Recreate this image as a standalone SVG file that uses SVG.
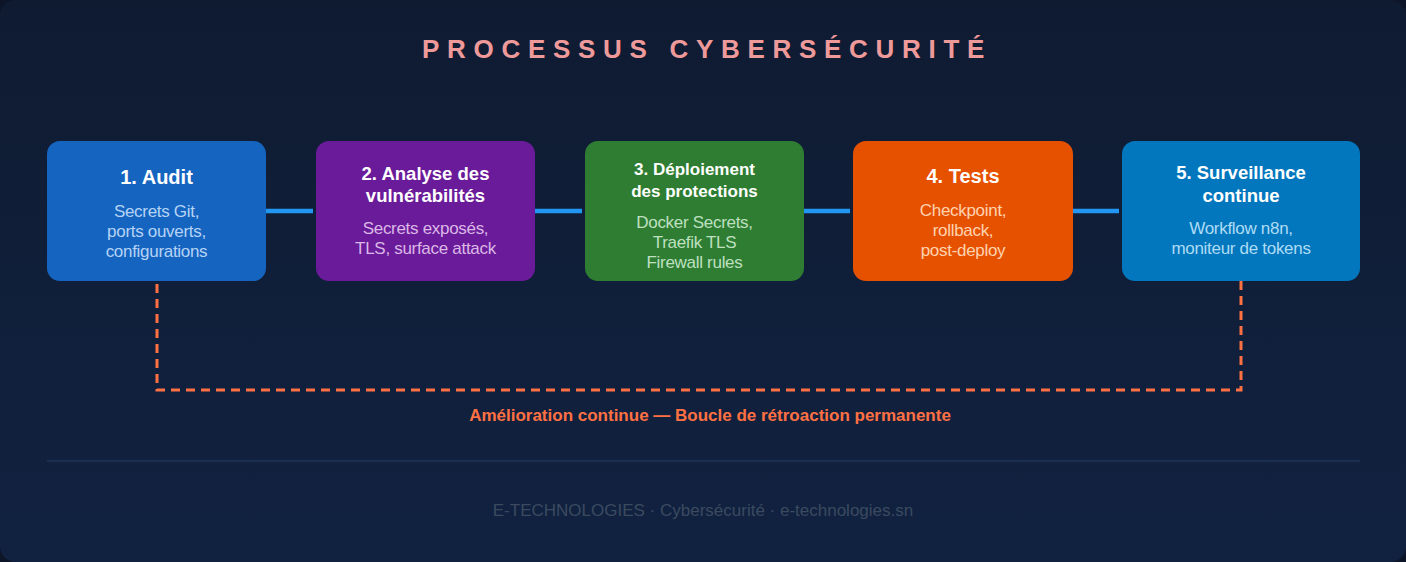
<svg xmlns="http://www.w3.org/2000/svg" width="1406" height="562" viewBox="0 0 1406 562">
  <defs>
    <linearGradient id="bg" x1="0" y1="0" x2="0" y2="1">
      <stop offset="0" stop-color="#0f1b31"/>
      <stop offset="1" stop-color="#112241"/>
    </linearGradient>
    <style>
      .title{font-family:"Liberation Sans",Arial,sans-serif;font-weight:bold;font-size:26px;letter-spacing:7.7px;fill:#ef9a9a}
      .nt{font-family:"Liberation Sans",Arial,sans-serif;font-weight:bold;fill:#ffffff;text-anchor:middle}
      .ns{font-family:"Liberation Sans",Arial,sans-serif;font-size:17px;letter-spacing:-0.3px;text-anchor:middle}
      .conn{stroke:#2196f3;stroke-width:4.5;fill:none}
      .loop{stroke:#ff7043;stroke-width:3;stroke-dasharray:9 6;fill:none}
      .loopl{font-family:"Liberation Sans",Arial,sans-serif;font-weight:bold;font-size:17px;fill:#ff7043;text-anchor:middle}
      .foot{font-family:"Liberation Sans",Arial,sans-serif;font-size:17px;fill:#3b4a5f;text-anchor:middle}
    </style>
  </defs>
  <rect x="0" y="0" width="1406" height="562" fill="#0d1628"/>
  <rect x="0" y="0" width="1406" height="562" rx="16" fill="url(#bg)"/>
  <text class="title" x="422" y="58">PROCESSUS CYBERSÉCURITÉ</text>

  <g id="connectors">
    <line class="conn" x1="266" y1="211" x2="313" y2="211"/>
    <line class="conn" x1="535" y1="211" x2="582" y2="211"/>
    <line class="conn" x1="804" y1="211" x2="850" y2="211"/>
    <line class="conn" x1="1073" y1="211" x2="1119" y2="211"/>
    <path class="loop" d="M157,284 V390 H1241 V281"/>
  </g>

  <g id="n1">
    <rect x="47" y="141" width="219" height="140" rx="13" fill="#1565c0"/>
    <text class="nt" x="156.5" y="184" font-size="20">1. Audit</text>
    <text class="ns" fill="#b6d3f5" x="156.5" y="216.5">Secrets Git,</text>
    <text class="ns" fill="#b6d3f5" x="156.5" y="236.5">ports ouverts,</text>
    <text class="ns" fill="#b6d3f5" x="156.5" y="256.5">configurations</text>
  </g>
  <g id="n2">
    <rect x="316" y="141" width="219" height="140" rx="13" fill="#6a1b9a"/>
    <text class="nt" x="425.5" y="180" font-size="18.5">2. Analyse des</text>
    <text class="nt" x="425.5" y="201.7" font-size="18.5">vulnérabilités</text>
    <text class="ns" fill="#dbb8e6" x="425.5" y="234">Secrets exposés,</text>
    <text class="ns" fill="#dbb8e6" x="425.5" y="254.3">TLS, surface attack</text>
  </g>
  <g id="n3">
    <rect x="585" y="141" width="219" height="140" rx="13" fill="#2e7d32"/>
    <text class="nt" x="694.5" y="175" font-size="17">3. Déploiement</text>
    <text class="nt" x="694.5" y="197" font-size="17">des protections</text>
    <text class="ns" fill="#bfe0c0" x="694.5" y="228.3">Docker Secrets,</text>
    <text class="ns" fill="#bfe0c0" x="694.5" y="248.3">Traefik TLS</text>
    <text class="ns" fill="#bfe0c0" x="694.5" y="268.3">Firewall rules</text>
  </g>
  <g id="n4">
    <rect x="853" y="141" width="220" height="140" rx="13" fill="#e65100"/>
    <text class="nt" x="963" y="183.3" font-size="20">4. Tests</text>
    <text class="ns" fill="#ffd3b0" x="963" y="216">Checkpoint,</text>
    <text class="ns" fill="#ffd3b0" x="963" y="236">rollback,</text>
    <text class="ns" fill="#ffd3b0" x="963" y="256">post-deploy</text>
  </g>
  <g id="n5">
    <rect x="1122" y="141" width="238" height="140" rx="13" fill="#0277bd"/>
    <text class="nt" x="1241" y="179.3" font-size="18.5">5. Surveillance</text>
    <text class="nt" x="1241" y="201.7" font-size="18.5">continue</text>
    <text class="ns" fill="#aedcf5" x="1241" y="234">Workflow n8n,</text>
    <text class="ns" fill="#aedcf5" x="1241" y="254">moniteur de tokens</text>
  </g>

  <text class="loopl" x="710" y="421">Amélioration continue — Boucle de rétroaction permanente</text>
  <line x1="47" y1="461" x2="1360" y2="461" stroke="#1e3557" stroke-width="1.5"/>
  <text class="foot" x="703" y="516">E-TECHNOLOGIES · Cybersécurité · e-technologies.sn</text>
</svg>
